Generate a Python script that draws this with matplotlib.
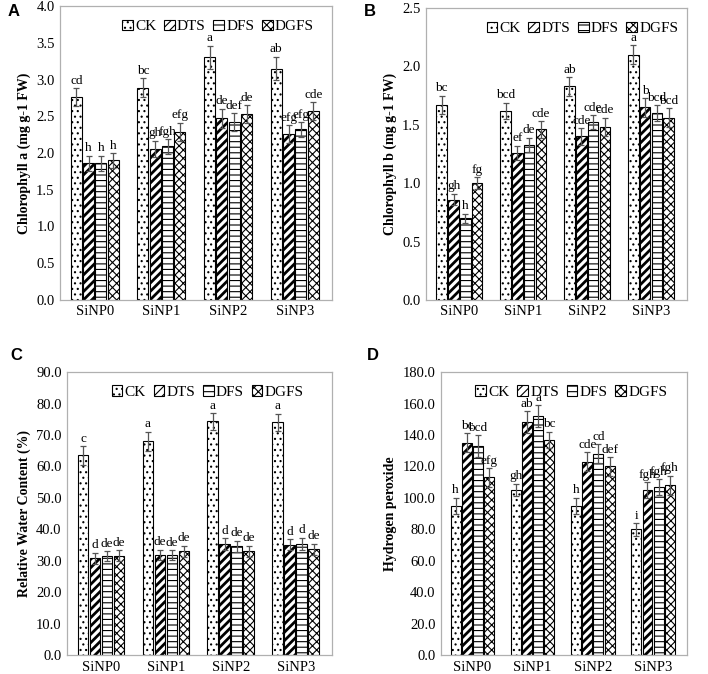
import numpy as np
import matplotlib
matplotlib.use("Agg")
import matplotlib.pyplot as plt

plt.rcParams['font.family'] = 'Liberation Serif'
plt.rcParams['hatch.linewidth'] = 0.8

groups = ['SiNP0', 'SiNP1', 'SiNP2', 'SiNP3']
treatments = ['CK', 'DTS', 'DFS', 'DGFS']
hatches = ['...', '////', '---', 'xxxx']
hatch_lw = [0.8, 2.0, 0.8, 0.8]

# Panel A - Chlorophyll a
chla = [[2.76, 2.89, 3.30, 3.15],
        [1.86, 2.06, 2.47, 2.26],
        [1.86, 2.09, 2.42, 2.32],
        [1.90, 2.29, 2.53, 2.57]]
chla_err = [[0.12, 0.13, 0.16, 0.16],
            [0.10, 0.11, 0.13, 0.12],
            [0.10, 0.10, 0.12, 0.10],
            [0.10, 0.12, 0.12, 0.12]]
chla_let = [['cd', 'bc', 'a', 'ab'],
            ['h', 'gh', 'de', 'efg'],
            ['h', 'fgh', 'def', 'efg'],
            ['h', 'efg', 'de', 'cde']]

# Panel B - Chlorophyll b
chlb = [[1.67, 1.62, 1.83, 2.10],
        [0.86, 1.26, 1.40, 1.65],
        [0.70, 1.33, 1.52, 1.60],
        [1.00, 1.46, 1.48, 1.56]]
chlb_err = [[0.08, 0.07, 0.08, 0.08],
            [0.05, 0.06, 0.07, 0.08],
            [0.04, 0.06, 0.06, 0.07],
            [0.05, 0.07, 0.08, 0.08]]
chlb_let = [['bc', 'bcd', 'ab', 'a'],
            ['gh', 'ef', 'cde', 'b'],
            ['h', 'de', 'cde', 'bcd'],
            ['fg', 'cde', 'cde', 'bcd']]

# Panel C - Relative water content
rwc = [[63.5, 68.0, 74.3, 74.0],
       [30.8, 31.8, 35.3, 35.1],
       [31.4, 31.8, 34.6, 35.4],
       [31.6, 33.0, 33.0, 33.6]]
rwc_err = [[3.0, 3.0, 2.7, 2.7],
           [1.7, 1.7, 1.9, 1.8],
           [1.6, 1.6, 1.8, 1.9],
           [1.7, 1.8, 1.8, 1.8]]
rwc_let = [['c', 'a', 'a', 'a'],
           ['d', 'de', 'd', 'd'],
           ['de', 'de', 'de', 'd'],
           ['de', 'de', 'de', 'de']]

# Panel D - Hydrogen peroxide
h2o2 = [[95, 105, 95, 80],
        [135, 148, 123, 105],
        [133, 152, 128, 107],
        [113, 137, 120, 108]]
h2o2_err = [[5, 4, 5, 4],
            [6, 7, 6, 5],
            [7, 7, 6, 5],
            [6, 5, 6, 6]]
h2o2_let = [['h', 'gh', 'h', 'i'],
            ['bc', 'ab', 'cde', 'fgh'],
            ['bcd', 'a', 'cd', 'fgh'],
            ['efg', 'bc', 'def', 'fgh']]


def panel(ax, vals, errs, lets, ylabel, yticks, leg_x):
    x = np.arange(len(groups))
    step = 0.185
    width = 0.165
    ymax = yticks[-1]
    for i, name in enumerate(treatments):
        pos = x + (i - 1.5) * step
        with plt.rc_context({'hatch.linewidth': hatch_lw[i]}):
            ax.bar(pos, vals[i], width, color='white', edgecolor='black',
                   linewidth=0.8, hatch=hatches[i], label=name)
        ax.errorbar(pos, vals[i], yerr=errs[i], fmt='none', ecolor='#555555',
                    elinewidth=0.9, capsize=2.5, capthick=0.9)
        for p, v, e, t in zip(pos, vals[i], errs[i], lets[i]):
            ax.text(p, v + e + ymax * 0.005, t, ha='center', va='bottom',
                    fontsize=9.5)
    ax.set_xlim(-0.52, 3.56)
    ax.set_ylim(0, ymax)
    ax.set_yticks(yticks)
    ax.set_yticklabels(['%.1f' % t for t in yticks], fontsize=10.5)
    ax.set_xticks(x)
    ax.set_xticklabels(groups, fontsize=10.5)
    ax.tick_params(length=0, pad=4)
    for s in ax.spines.values():
        s.set_color('#b0b0b0')
        s.set_linewidth(0.9)
    ax.set_ylabel(ylabel, fontsize=10, fontweight='bold')
    ax.legend(loc='upper center', bbox_to_anchor=(leg_x, 0.985), ncol=4,
              frameon=False, fontsize=11, handlelength=0.7, handleheight=0.7,
              handletextpad=0.15, columnspacing=0.5, borderaxespad=0.2)


fig = plt.figure(figsize=(7.08, 6.74), dpi=100)
axA = fig.add_axes([0.085, 0.555, 0.384, 0.436])
axB = fig.add_axes([0.602, 0.555, 0.368, 0.433])
axC = fig.add_axes([0.095, 0.028, 0.374, 0.42])
axD = fig.add_axes([0.623, 0.028, 0.347, 0.42])

panel(axA, chla, chla_err, chla_let, 'Chlorophyll a (mg g-1 FW)',
      np.arange(0, 4.01, 0.5), 0.58)
panel(axB, chlb, chlb_err, chlb_let, 'Chlorophyll b (mg g-1 FW)',
      np.arange(0, 2.51, 0.5), 0.6)
panel(axC, rwc, rwc_err, rwc_let, 'Relative Water Content (%)',
      np.arange(0, 90.1, 10), 0.53)
panel(axD, h2o2, h2o2_err, h2o2_let, 'Hydrogen peroxide',
      np.arange(0, 180.1, 20), 0.53)

# panel tags
for tag, tx, ty in [('A', 8, 12), ('B', 364, 12), ('C', 10, 356), ('D', 367, 356)]:
    fig.text(tx / 708, 1 - ty / 674, tag, fontsize=12, fontweight='bold',
             family='Liberation Sans', ha='left', va='center')

fig.savefig('out.png', dpi=100)
